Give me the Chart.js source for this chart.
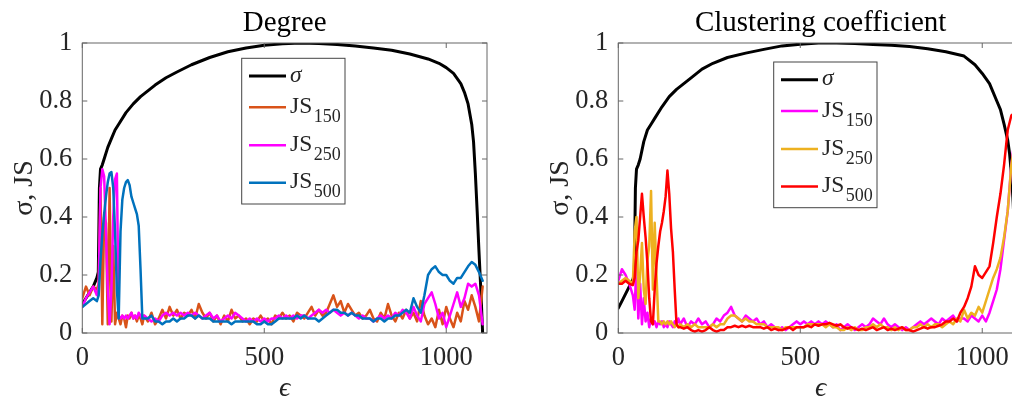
<!DOCTYPE html>
<html><head><meta charset="utf-8">
<script src="https://cdn.jsdelivr.net/npm/chart.js@4/dist/chart.umd.min.js"></script>
<style>
html,body{margin:0;padding:0;background:#fff;overflow:hidden;width:1012px;height:403px;}
#wrap{position:relative;width:1012px;height:403px;overflow:hidden;background:#fff;}
canvas{position:absolute;top:0;}
#c1{left:0}
#c2{left:536px}
</style></head><body>
<div id="wrap"><canvas id="c1" width="506" height="403"></canvas><canvas id="c2" width="506" height="403"></canvas></div>
<script>
// ---- data ----
const eps = [0,10,20,30,40,
45,50,55,60,65,70,75,80,85,90,
95,100,105,110,115,120,125,130,135,140,
145,150,155,160,165,
170,180,190,200,210,220,230,240,250,260,
270,280,290,300,310,320,330,340,350,360,
370,380,390,400,410,420,430,440,450,460,
470,480,490,500,510,520,530,540,550,560,
570,580,590,600,610,620,630,640,650,660,
670,680,690,700,710,720,730,740,750,760,
770,780,790,800,810,820,830,840,850,860,
870,880,890,900,910,920,930,940,950,960,
970,980,990,1000,1010,1020,1030,1040,1050,1060,
1070,1080,1090,1100];

const sigEps = [0,10,20,30,40,44,47,50,55,60,70,80,90,100,120,140,160,180,200,230,260,300,350,400,450,500,550,600,650,700,750,800,850,900,950,980,1000,1020,1040,1050,1060,1070,1075,1080,1085,1090,1095,1100];
const sigmaDegree = [0.10,0.12,0.14,0.16,0.19,0.21,0.50,0.565,0.58,0.60,0.64,0.67,0.70,0.72,0.76,0.79,0.815,0.835,0.855,0.88,0.90,0.925,0.95,0.97,0.983,0.992,0.997,1.0,0.998,0.995,0.99,0.983,0.975,0.962,0.945,0.93,0.915,0.895,0.86,0.83,0.79,0.72,0.66,0.55,0.42,0.28,0.15,0.0];
const sigmaCluster = [0.086,0.11,0.135,0.16,0.185,0.20,0.50,0.565,0.58,0.60,0.66,0.70,0.72,0.74,0.78,0.815,0.84,0.86,0.88,0.91,0.93,0.95,0.965,0.978,0.99,0.996,1.0,1.0,0.998,0.995,0.992,0.988,0.98,0.97,0.955,0.925,0.895,0.86,0.80,0.77,0.72,0.665,0.62,0.55,0.45,0.30,0.15,0.0];

const degJS150 = [0.12,0.16,0.13,0.16,0.15,
0.17,0.50,0.03,0.40,0.38,0.03,0.50,0.04,0.30,0.03,
0.07,0.05,0.03,0.06,0.05,0.02,0.06,0.05,0.07,0.05,
0.06,0.04,0.06,0.05,0.03,
0.06,0.04,0.07,0.03,0.05,0.08,0.05,0.09,0.06,0.08,
0.05,0.07,0.06,0.08,0.05,0.10,0.07,0.05,0.07,0.04,
0.06,0.03,0.06,0.04,0.08,0.05,0.06,0.04,0.05,0.03,
0.05,0.04,0.06,0.04,0.05,0.03,0.06,0.05,0.07,0.05,
0.06,0.04,0.07,0.06,0.05,0.07,0.09,0.06,0.08,0.06,
0.07,0.10,0.13,0.09,0.11,0.07,0.10,0.08,0.06,0.07,
0.05,0.06,0.08,0.05,0.04,0.07,0.05,0.10,0.06,0.04,
0.07,0.05,0.08,0.05,0.07,0.04,0.11,0.06,0.03,0.05,
0.02,0.08,0.03,0.09,0.05,0.02,0.07,0.04,0.11,0.08,
0.13,0.09,0.04,0.16];

const degJS250 = [0.09,0.12,0.14,0.16,0.13,
0.16,0.50,0.565,0.54,0.35,0.15,0.03,0.15,0.40,0.53,
0.55,0.06,0.05,0.06,0.05,0.06,0.05,0.06,0.07,0.05,
0.06,0.05,0.07,0.06,0.05,
0.06,0.05,0.04,0.05,0.04,0.06,0.07,0.06,0.07,0.06,
0.07,0.06,0.07,0.06,0.07,0.06,0.05,0.06,0.07,0.05,
0.06,0.04,0.05,0.06,0.05,0.07,0.06,0.05,0.04,0.05,
0.04,0.05,0.04,0.05,0.04,0.05,0.05,0.06,0.05,0.06,
0.05,0.06,0.05,0.06,0.06,0.05,0.06,0.07,0.08,0.07,
0.08,0.07,0.08,0.07,0.06,0.07,0.06,0.07,0.06,0.05,
0.06,0.05,0.05,0.04,0.05,0.06,0.05,0.06,0.05,0.07,
0.06,0.08,0.07,0.05,0.09,0.06,0.04,0.10,0.12,0.14,
0.10,0.05,0.07,0.02,0.06,0.10,0.14,0.09,0.12,0.17,
0.16,0.17,0.13,0.03];

const degJS500 = [0.09,0.10,0.11,0.12,0.11,
0.13,0.25,0.34,0.41,0.47,0.52,0.55,0.555,0.50,0.35,
0.15,0.05,0.35,0.46,0.50,0.52,0.527,0.51,0.47,0.45,
0.43,0.41,0.37,0.22,0.05,
0.05,0.05,0.06,0.04,0.04,0.03,0.04,0.04,0.05,0.04,
0.05,0.05,0.06,0.06,0.05,0.06,0.05,0.05,0.05,0.04,
0.04,0.04,0.04,0.04,0.03,0.04,0.04,0.04,0.04,0.04,
0.04,0.03,0.03,0.04,0.03,0.03,0.04,0.05,0.05,0.05,
0.05,0.05,0.06,0.05,0.06,0.05,0.05,0.05,0.04,0.05,
0.06,0.07,0.08,0.08,0.07,0.07,0.06,0.07,0.06,0.06,
0.05,0.05,0.05,0.04,0.05,0.05,0.04,0.05,0.05,0.06,
0.06,0.07,0.08,0.07,0.12,0.09,0.07,0.13,0.20,0.22,
0.23,0.21,0.20,0.20,0.18,0.17,0.19,0.19,0.21,0.23,
0.245,0.235,0.21,0.18];

const cluJS150 = [0.18,0.22,0.20,0.17,0.13,
0.08,0.25,0.05,0.17,0.03,0.12,0.04,0.07,0.02,0.05,
0.03,0.04,0.02,0.04,0.03,0.04,0.02,0.03,0.02,0.04,
0.03,0.02,0.04,0.03,0.05,
0.03,0.05,0.02,0.04,0.03,0.05,0.03,0.04,0.02,0.03,
0.05,0.04,0.06,0.07,0.09,0.06,0.05,0.04,0.06,0.05,
0.04,0.05,0.03,0.04,0.02,0.03,0.02,0.01,0.02,0.01,
0.02,0.03,0.04,0.03,0.04,0.03,0.04,0.03,0.04,0.03,
0.04,0.03,0.02,0.03,0.01,0.02,0.03,0.02,0.01,0.02,
0.03,0.02,0.03,0.05,0.04,0.03,0.05,0.03,0.02,0.03,
0.02,0.01,0.02,0.01,0.02,0.03,0.04,0.03,0.04,0.05,
0.04,0.03,0.05,0.04,0.05,0.06,0.04,0.05,0.05,0.04,
0.06,0.05,0.04,0.06,0.04,0.07,0.11,0.15,0.22,0.32,
0.42,0.58,0.68,0.72];

const cluJS250 = [0.17,0.18,0.19,0.18,0.17,
0.35,0.40,0.12,0.20,0.31,0.15,0.10,0.25,0.30,0.49,
0.15,0.38,0.20,0.04,0.04,0.03,0.04,0.03,0.04,0.03,
0.04,0.03,0.02,0.03,0.02,
0.03,0.02,0.03,0.02,0.03,0.02,0.02,0.02,0.02,0.03,
0.02,0.03,0.03,0.05,0.06,0.06,0.05,0.04,0.05,0.04,
0.04,0.03,0.03,0.03,0.02,0.02,0.02,0.02,0.01,0.02,
0.02,0.02,0.02,0.02,0.02,0.03,0.03,0.03,0.03,0.03,
0.02,0.03,0.02,0.02,0.01,0.01,0.02,0.01,0.02,0.01,
0.01,0.02,0.02,0.03,0.02,0.03,0.02,0.02,0.01,0.02,
0.01,0.02,0.01,0.01,0.02,0.02,0.03,0.02,0.03,0.02,
0.03,0.03,0.02,0.03,0.04,0.03,0.05,0.04,0.08,0.05,
0.07,0.06,0.09,0.07,0.11,0.15,0.19,0.22,0.26,0.33,
0.42,0.58,0.66,0.70];

const cluJS500 = [0.17,0.17,0.18,0.17,0.165,
0.19,0.28,0.32,0.40,0.48,0.40,0.33,0.24,0.12,0.04,
0.03,0.15,0.24,0.30,0.35,0.38,0.42,0.47,0.56,0.48,
0.36,0.28,0.15,0.03,0.02,
0.02,0.015,0.02,0.01,0.005,0.01,0.005,0.01,0.02,0.01,
0.005,0.01,0.01,0.02,0.02,0.025,0.02,0.025,0.02,0.025,
0.02,0.02,0.02,0.015,0.02,0.01,0.015,0.01,0.01,0.015,
0.02,0.01,0.02,0.02,0.02,0.025,0.02,0.03,0.025,0.03,
0.03,0.035,0.03,0.025,0.03,0.02,0.015,0.02,0.015,0.01,
0.015,0.01,0.015,0.02,0.01,0.015,0.02,0.01,0.015,0.01,
0.015,0.02,0.01,0.01,0.005,0.01,0.015,0.02,0.015,0.02,
0.02,0.025,0.03,0.04,0.04,0.05,0.04,0.07,0.09,0.12,
0.16,0.23,0.20,0.19,0.21,0.23,0.31,0.40,0.48,0.58,
0.70,0.75,0.76,0.75];

const xTicks = [0, 500, 1000];
const yTicks = [0, 0.2, 0.4, 0.6, 0.8, 1];
const xMax = 1112;

// ---- rendering ----
const SERIF = "'Liberation Serif','Times New Roman','DejaVu Serif',serif";
const AX = '#262626';

function pts(xs, ys){ return xs.map((x,i)=>({x:x, y:ys[i]})); }

const framePlugin = {
  id: 'matlabFrame',
  afterDatasetsDraw(chart){
    const {ctx, chartArea:a, scales} = chart;
    const x = scales.x, y = scales.y;
    ctx.save();
    ctx.strokeStyle = '#666666';
    ctx.lineWidth = 1;
    ctx.strokeRect(a.left, a.top, a.right - a.left, a.bottom - a.top);
    ctx.beginPath();
    const L = 5;
    x.ticks.forEach(t => {
      const p = x.getPixelForValue(t.value);
      ctx.moveTo(p, a.bottom); ctx.lineTo(p, a.bottom - L);
      ctx.moveTo(p, a.top); ctx.lineTo(p, a.top + L);
    });
    y.ticks.forEach(t => {
      const p = y.getPixelForValue(t.value);
      ctx.moveTo(a.left, p); ctx.lineTo(a.left + L, p);
      ctx.moveTo(a.right, p); ctx.lineTo(a.right - L, p);
    });
    ctx.stroke();
    ctx.restore();
  }
};

const legendPlugin = {
  id: 'matlabLegend',
  afterDraw(chart, args, o){
    const ctx = chart.ctx;
    const x0 = o.x, y0 = o.y, w = 103.3, h = 145.7;
    ctx.save();
    ctx.fillStyle = '#fff';
    ctx.fillRect(x0, y0, w, h);
    ctx.strokeStyle = '#444';
    ctx.lineWidth = 1;
    ctx.strokeRect(x0, y0, w, h);
    const rowY = [17.7, 49, 87, 124.4];
    chart.data.datasets.forEach((ds, i) => {
      const ly = y0 + rowY[i];
      ctx.strokeStyle = ds.borderColor;
      ctx.lineWidth = ds.borderWidth;
      ctx.beginPath(); ctx.moveTo(x0 + 7.3, ly); ctx.lineTo(x0 + 44.3, ly); ctx.stroke();
      const m = /^(\D+)(\d*)$/.exec(ds.label);
      const base = m[1], sub = m[2];
      ctx.fillStyle = AX; ctx.textBaseline = 'alphabetic'; ctx.textAlign = 'left';
      ctx.font = (sub ? '' : 'italic ') + '23.5px ' + SERIF;
      ctx.fillText(base, x0 + 48.3, ly + 5.5);
      if (sub) {
        const bw = ctx.measureText(base).width;
        ctx.font = '18px ' + SERIF;
        ctx.fillText(sub, x0 + 48.3 + bw + 1.5, ly + 14.7);
      }
    });
    ctx.restore();
  }
};

function makeChart(id, title, sigma, s150, s250, s500, colors, legendPos){
  return new Chart(document.getElementById(id), {
    type: 'line',
    data: {
      datasets: [
        {label:'σ', data: pts(sigEps, sigma), borderColor:'#000000', borderWidth:3, order:3},
        {label:'JS150', data: pts(eps, s150), borderColor: colors[0], borderWidth:2.5, order:2},
        {label:'JS250', data: pts(eps, s250), borderColor: colors[1], borderWidth:2.5, order:1},
        {label:'JS500', data: pts(eps, s500), borderColor: colors[2], borderWidth:2.5, order:0}
      ]
    },
    options: {
      responsive:false, animation:false, devicePixelRatio:1,
      elements:{point:{radius:0}, line:{tension:0, fill:false, borderJoinStyle:'round', borderCapStyle:'round'}},
      layout:{padding:{left:0, right:19, top:0, bottom:0}},
      plugins:{
        legend:{display:false},
        tooltip:{enabled:false},
        title:{display:true, text:title, fullSize:false, color:'#000',
               font:{family:SERIF, size:29, weight:'normal', lineHeight:1},
               padding:{top:9, bottom:5}},
        matlabLegend:{x:legendPos[0], y:legendPos[1]}
      },
      scales:{
        x:{type:'linear', min:0, max:xMax,
           afterFit: s => { s.height = 70; },
           afterBuildTicks: s => { s.ticks = xTicks.map(v => ({value:v})); },
           grid:{display:false, drawTicks:false, tickLength:0},
           border:{display:false},
           ticks:{color:AX, font:{family:SERIF, size:26.5, lineHeight:1}, padding:12, maxRotation:0, autoSkip:false,
                  callback: v => String(v)},
           title:{display:true, text:'ϵ', color:AX, font:{family:SERIF, size:28, style:'italic', lineHeight:1}, padding:{top:0, bottom:0}}
        },
        y:{type:'linear', min:0, max:1,
           afterFit: s => { s.width = 82.3; },
           afterBuildTicks: s => { s.ticks = yTicks.map(v => ({value:v})); },
           grid:{display:false, drawTicks:false, tickLength:0},
           border:{display:false},
           ticks:{color:AX, font:{family:SERIF, size:26.5, lineHeight:1}, padding:10, autoSkip:false,
                  callback: v => String(v)},
           title:{display:true, text:'σ, JS', color:AX, font:{family:SERIF, size:28, lineHeight:1}, padding:{top:11, bottom:0}}
        }
      }
    },
    plugins:[framePlugin, legendPlugin]
  });
}

makeChart('c1', 'Degree', sigmaDegree, degJS150, degJS250, degJS500,
          ['#D95319', '#FF00FF', '#0072BD'], [241.7, 58.3]);
makeChart('c2', 'Clustering coefficient', sigmaCluster, cluJS150, cluJS250, cluJS500,
          ['#FF00FF', '#EDB120', '#FF0000'], [237.7, 62]);
</script>
</body></html>
